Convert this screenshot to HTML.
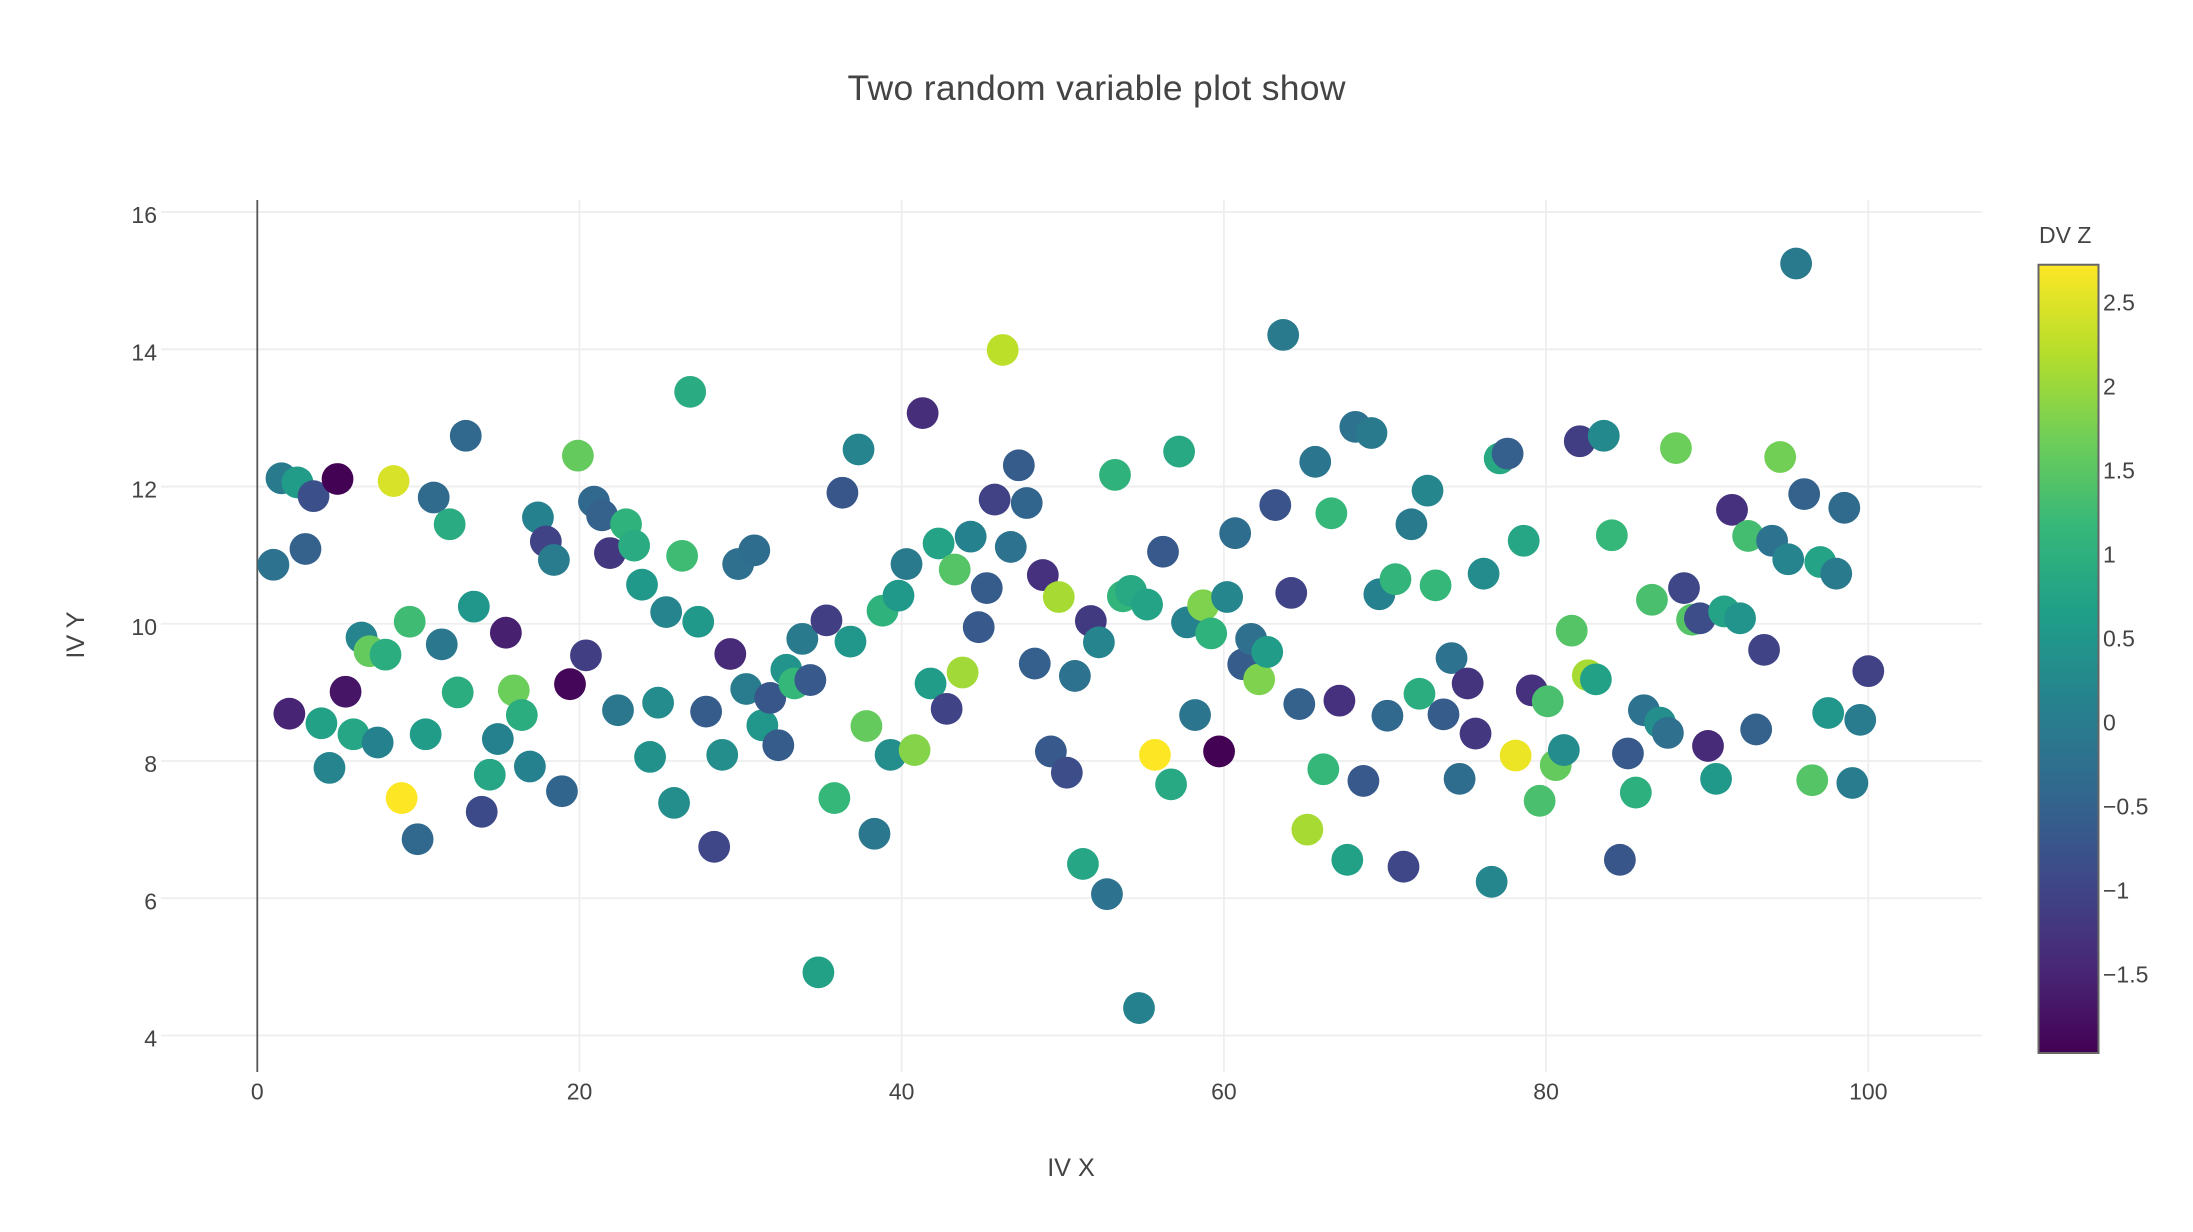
<!DOCTYPE html>
<html lang="en">
<head>
<meta charset="utf-8">
<title>Two random variable plot show</title>
<style>
html,body{margin:0;padding:0;background:#fff;width:2193px;height:1232px;overflow:hidden}
svg{display:block}
text{font-family:"Liberation Sans",sans-serif;fill:#444}
</style>
</head>
<body>
<svg id="chart" xmlns="http://www.w3.org/2000/svg" width="2193" height="1232" viewBox="0 0 2193 1232">
  <defs>
    <linearGradient id="viridis" x1="0" y1="1" x2="0" y2="0"></linearGradient>
  </defs>
  <rect x="0" y="0" width="2193" height="1232" fill="#fff"/>
  <text x="1096.5" y="100" text-anchor="middle" font-size="35.5" textLength="498">Two random variable plot show</text>
  <g id="grid"></g>
  <g id="zero"></g>
  <g id="points"></g>
  <g id="xticks"></g>
  <g id="yticks"></g>
  <text x="1071" y="1176" text-anchor="middle" font-size="25.2">IV X</text>
  <text x="84" y="635" text-anchor="middle" font-size="25.2" transform="rotate(-90 84 635)">IV Y</text>
  <text x="2039" y="243" font-size="23">DV Z</text>
  <rect id="cbar" fill="url(#viridis)" stroke="#666" stroke-width="2"></rect>
  <g id="cticks"></g>
</svg>
<script>
const xValues = [1.00,1.50,1.99,2.49,2.99,3.49,3.98,4.48,4.98,5.48,5.97,6.47,6.97,7.47,7.96,8.46,8.96,9.46,9.95,10.45,
10.95,11.45,11.94,12.44,12.94,13.44,13.93,14.43,14.93,15.43,15.92,16.42,16.92,17.42,17.91,18.41,18.91,19.41,19.90,20.40,
20.90,21.40,21.89,22.39,22.89,23.39,23.88,24.38,24.88,25.38,25.87,26.37,26.87,27.37,27.86,28.36,28.86,29.36,29.85,30.35,
30.85,31.35,31.84,32.34,32.84,33.34,33.83,34.33,34.83,35.33,35.82,36.32,36.82,37.32,37.81,38.31,38.81,39.31,39.80,40.30,
40.80,41.30,41.79,42.29,42.79,43.29,43.78,44.28,44.78,45.28,45.77,46.27,46.77,47.27,47.76,48.26,48.76,49.26,49.75,50.25,
50.75,51.25,51.74,52.24,52.74,53.24,53.73,54.23,54.73,55.23,55.72,56.22,56.72,57.22,57.71,58.21,58.71,59.21,59.70,60.20,
60.70,61.20,61.69,62.19,62.69,63.19,63.68,64.18,64.68,65.18,65.67,66.17,66.67,67.17,67.66,68.16,68.66,69.16,69.65,70.15,
70.65,71.15,71.64,72.14,72.64,73.14,73.63,74.13,74.63,75.13,75.62,76.12,76.62,77.12,77.61,78.11,78.61,79.11,79.60,80.10,
80.60,81.10,81.59,82.09,82.59,83.09,83.58,84.08,84.58,85.08,85.57,86.07,86.57,87.07,87.56,88.06,88.56,89.06,89.55,90.05,
90.55,91.05,91.54,92.04,92.54,93.04,93.53,94.03,94.53,95.03,95.52,96.02,96.52,97.02,97.51,98.01,98.51,99.01,99.50,100.00];
const yValues = [10.86,12.12,8.69,12.06,11.09,11.86,8.55,7.90,12.11,9.01,8.39,9.80,9.60,8.27,9.55,12.08,7.46,10.03,6.86,8.39,
11.84,9.70,11.45,9.00,12.74,10.25,7.26,7.80,8.32,9.87,9.03,8.67,7.92,11.55,11.20,10.93,7.56,9.12,12.45,9.54,
11.78,11.58,11.03,8.74,11.45,11.14,10.57,8.06,8.85,10.17,7.39,10.99,13.38,10.03,8.72,6.75,8.09,9.56,10.87,9.05,
11.07,8.52,8.92,8.23,9.33,9.13,9.78,9.18,4.92,10.05,7.46,11.91,9.74,12.54,8.51,6.94,10.19,8.09,10.41,10.87,
8.16,13.07,9.13,11.17,8.76,10.79,9.29,11.27,9.95,10.52,11.81,13.99,11.12,12.31,11.76,9.42,10.71,8.14,10.39,7.83,
9.24,6.50,10.04,9.73,6.06,12.17,10.40,10.48,4.40,10.28,8.09,11.05,7.66,12.51,10.02,8.67,10.27,9.86,8.14,10.39,
11.32,9.41,9.78,9.19,9.59,11.73,14.21,10.45,8.83,7.00,12.36,7.88,11.61,8.88,6.56,12.87,7.71,12.78,10.43,8.66,
10.65,6.46,11.45,8.98,11.94,10.56,8.68,9.50,7.74,9.13,8.40,10.73,6.24,12.41,12.48,8.08,11.21,9.03,7.42,8.87,
7.94,8.16,9.90,12.66,9.25,9.19,12.74,11.29,6.56,8.11,7.54,8.74,10.35,8.56,8.41,12.56,10.52,10.06,10.08,8.22,
7.74,10.18,11.66,10.08,11.28,8.46,9.62,11.21,12.43,10.94,15.25,11.89,7.72,10.90,8.70,10.73,11.69,7.68,8.60,9.31];
const zValues = [-0.2,-0.05,-1.5,0.6,-0.5,-0.8,0.7,0.15,-1.95,-1.7,0.8,0.15,1.6,0.1,0.95,2.45,2.72,1.25,-0.4,0.6,
-0.35,-0.1,0.9,0.95,-0.4,0.5,-0.9,0.8,0.1,-1.55,1.65,0.95,0.1,0.1,-1.0,0.0,-0.45,-1.9,1.6,-1.1,
-0.4,-0.5,-1.2,-0.1,1.05,0.9,0.55,0.4,0.3,0.15,0.35,1.25,0.9,0.55,-0.6,-0.95,0.35,-1.4,-0.25,0,
-0.3,0.5,-0.7,-0.6,0.45,1.15,-0.05,-0.65,0.7,-1.1,1.15,-0.7,0.5,0.15,1.6,-0.1,1.05,0.35,0.55,-0.05,
1.85,-1.35,0.6,0.75,-1,1.45,2.05,0.1,-0.65,-0.6,-1.05,2.25,-0.2,-0.6,-0.45,-0.55,-1.3,-0.65,2.1,-0.85,
-0.2,0.8,-1.15,0.15,-0.2,1.05,1.1,0.85,0.1,0.75,2.72,-0.65,0.85,0.85,0.1,-0.15,1.8,1.05,-1.95,0.2,
-0.3,-0.6,-0.25,1.8,0.6,-0.75,-0.05,-1,-0.5,2.1,-0.15,1.15,1.15,-1.3,0.7,-0.2,-0.65,-0.05,0.1,-0.4,
1.1,-0.95,-0.05,0.95,0.2,1.15,-0.6,-0.2,-0.3,-1.25,-1.2,0.3,0.2,0.85,-0.55,2.6,0.8,-1.3,1.35,1.35,
1.6,0.3,1.45,-1.1,2.1,0.7,0.25,1.15,-0.7,-0.65,1.0,-0.2,1.35,0.35,-0.25,1.65,-0.95,1.45,-0.85,-1.4,
0.55,0.75,-1.3,0.45,1.3,-0.5,-1,-0.2,1.7,0.15,-0.05,-0.5,1.45,0.75,0.5,-0.05,-0.35,0,0,-1.05];
const xTickValues = [0,20,40,60,80,100];
const yTickValues = [4,6,8,10,12,14,16];
const colorTickValues = [-1.5,-1,-0.5,0,0.5,1,1.5,2,2.5];
const colorScaleStops = ["#440154","#482878","#3e4989","#31688e","#26828e","#1f9e89","#35b779","#6ece58","#b5de2b","#fde725"];
const zMin = -1.96;
const zMax = 2.72;

const NS = "http://www.w3.org/2000/svg";
const plot = {left:161, right:1982, top:200, bottom:1072};
const sx = v => 257.3 + v * 16.11;
const sy = v => 1035.5 - (v - 4) * 68.62;
const sc = v => 302.7 - (v - 2.5) * 168;

function make(tag, attrs, parent) {
  const el = document.createElementNS(NS, tag);
  for (const k in attrs) el.setAttribute(k, attrs[k]);
  parent.appendChild(el);
  return el;
}
function hexToRgb(h) {
  return [parseInt(h.slice(1,3),16), parseInt(h.slice(3,5),16), parseInt(h.slice(5,7),16)];
}
function colorFor(z) {
  let t = (z - zMin) / (zMax - zMin);
  t = Math.max(0, Math.min(1, t)) * (colorScaleStops.length - 1);
  const i = Math.min(Math.floor(t), colorScaleStops.length - 2);
  const f = t - i;
  const a = hexToRgb(colorScaleStops[i]);
  const b = hexToRgb(colorScaleStops[i + 1]);
  return "rgb(" + [0,1,2].map(c => Math.round(a[c] + (b[c] - a[c]) * f)).join(",") + ")";
}

const grad = document.querySelector("#viridis");
colorScaleStops.forEach((c, i) => {
  make("stop", {offset: (i / (colorScaleStops.length - 1)), "stop-color": c}, grad);
});

const grid = document.querySelector("#grid");
xTickValues.forEach(v => {
  if (v === 0) return;
  const line = make("line", {x1: sx(v), x2: sx(v), y1: plot.top, y2: plot.bottom, stroke: "#eee", "stroke-width": 1.8}, grid);
  
  
});
yTickValues.forEach(v => {
  const line = make("line", {x1: plot.left, x2: plot.right, y1: sy(v), y2: sy(v), stroke: "#eee", "stroke-width": 1.8}, grid);
  
  
});

make("line", {x1: sx(0), x2: sx(0), y1: plot.top, y2: plot.bottom, stroke: "#555", "stroke-width": 1.8}, document.querySelector("#zero"));

const pts = document.querySelector("#points");
xValues.forEach((x, i) => {
  const c = make("circle", {cx: sx(x), cy: sy(yValues[i]), r: 15.9, fill: colorFor(zValues[i])}, pts);
  
  
});

const xt = document.querySelector("#xticks");
xTickValues.forEach(v => {
  const t = make("text", {x: sx(v), y: 1099.5, "text-anchor": "middle", "font-size": 23}, xt);
  t.textContent = String(v);
  
  
});
const yt = document.querySelector("#yticks");
yTickValues.forEach(v => {
  const t = make("text", {x: 157, y: sy(v) + 11, "text-anchor": "end", "font-size": 23}, yt);
  t.textContent = String(v);
  
  
});

const bar = document.querySelector("#cbar");
bar.setAttribute("x", 2038.5);
bar.setAttribute("width", 60);
bar.setAttribute("y", sc(zMax) - 1);
bar.setAttribute("height", sc(zMin) - sc(zMax) + 2);

const ct = document.querySelector("#cticks");
colorTickValues.forEach(v => {
  const t = make("text", {x: 2103, y: sc(v) + 8, "font-size": 23}, ct);
  t.textContent = String(v).replace("-", "\u2212");
  
  
});
</script>
</body>
</html>
